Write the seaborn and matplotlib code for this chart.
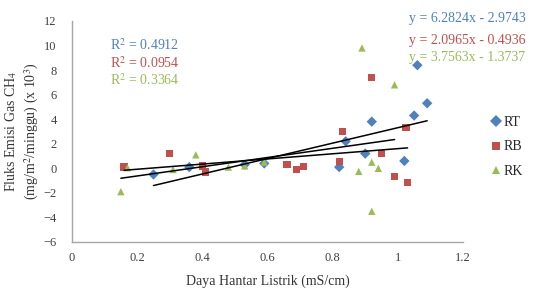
"""Fluks emisi CH4 vs daya hantar listrik scatter with linear trend lines"""
import numpy as np
import pandas as pd
import matplotlib
matplotlib.use("Agg")
import matplotlib.pyplot as plt
import seaborn as sns

sns.set_style("white")
plt.rcParams["font.family"] = ["Liberation Serif", "DejaVu Serif"]
plt.rcParams["mathtext.fontset"] = "stix"

# Data (x = mS/cm, y = x 10^3 mg/m2/minggu)
rt_x = [0.25, 0.36, 0.53, 0.59, 0.82, 0.84, 0.90, 0.92, 1.02, 1.05, 1.06, 1.09]
rt_y = [-0.5, 0.1, 0.3, 0.4, 0.1, 2.2, 1.2, 3.8, 0.6, 4.3, 8.4, 5.3]

rb_x = [0.16, 0.30, 0.40, 0.41, 0.66, 0.69, 0.71, 0.82, 0.83, 0.92, 0.95, 0.99, 1.025, 1.03]
rb_y = [0.1, 1.2, 0.2, -0.3, 0.3, -0.1, 0.15, 0.55, 3.0, 7.4, 1.2, -0.65, 3.3, -1.15]

rk_x = [0.15, 0.17, 0.31, 0.38, 0.48, 0.53, 0.59, 0.88, 0.89, 0.92, 0.92, 0.94, 0.99]
rk_y = [-1.9, 0.05, -0.1, 1.1, 0.1, 0.2, 0.5, -0.25, 9.8, 0.5, -3.5, 0.0, 6.8]

series = ["RT", "RB", "RK"]
colors = {"RT": "#4F81BD", "RB": "#C0504D", "RK": "#9BBB59"}
markers = {"RT": "D", "RB": "s", "RK": "^"}

# trend line coefficients as printed on the chart
slopes = {"RT": 6.2824, "RB": 2.0965, "RK": 3.7563}
intercepts = {"RT": -2.9743, "RB": -0.4936, "RK": -1.3737}
r2 = {"RT": 0.4912, "RB": 0.0954, "RK": 0.3364}

df = pd.concat([
    pd.DataFrame({"x": rt_x, "y": rt_y, "seri": "RT"}),
    pd.DataFrame({"x": rb_x, "y": rb_y, "seri": "RB"}),
    pd.DataFrame({"x": rk_x, "y": rk_y, "seri": "RK"}),
], ignore_index=True)

fig = plt.figure(figsize=(5.35, 2.91), dpi=100)
ax = fig.add_axes([0.1346, 0.1684, 0.7308, 0.7595])

sns.scatterplot(data=df, x="x", y="y", hue="seri", style="seri",
                hue_order=series, style_order=series,
                palette=colors, markers=markers, s=28, linewidth=0,
                ax=ax, zorder=3)

# linear trend lines over each series' x range
for s in series:
    sub = df[df["seri"] == s]
    xs = np.array([sub["x"].min(), sub["x"].max()])
    ax.plot(xs, slopes[s] * xs + intercepts[s], color="black", lw=1.1, zorder=4)

ax.set_xlim(0, 1.2)
ax.set_ylim(-6, 12)
ax.set_xticks(np.arange(0, 1.21, 0.2))
ax.set_xticklabels(["0", "0.2", "0.4", "0.6", "0.8", "1", "1.2"])
ax.set_yticks(np.arange(-6, 13, 2))
ax.tick_params(length=0, labelsize=9, colors="#404040")
ax.tick_params(axis="x", pad=7)
ax.tick_params(axis="y", pad=11)
for side in ["top", "right"]:
    ax.spines[side].set_visible(False)
for side in ["left", "bottom"]:
    ax.spines[side].set_color("#A6A6A6")
    ax.spines[side].set_linewidth(1)

ax.set_xlabel("Daya Hantar Listrik (mS/cm)", fontsize=10, color="#333333", labelpad=8)
ax.set_ylabel("Fluks Emisi Gas CH$_4$\n(mg/m$^2$/minggu) (x 10$^3$)",
              fontsize=10, color="#333333", linespacing=1.25)
ax.yaxis.set_label_coords(-0.08, 0.5)

# R2 and equations
r2_y = {"RT": 10.0, "RB": 8.55, "RK": 7.15}
eq_y = {"RT": 12.2, "RB": 10.4, "RK": 9.0}
for s in series:
    ax.text(0.117, r2_y[s], f"R$^2$ = {r2[s]:.4f}", color=colors[s],
            fontsize=10, va="center", ha="left")
    ax.text(1.034, eq_y[s], f"y = {slopes[s]:.4f}x - {abs(intercepts[s]):.4f}",
            color=colors[s], fontsize=10, va="center", ha="left", clip_on=False)

sns.move_legend(ax, "center left", bbox_to_anchor=(1.05, 0.43), frameon=False,
                title=None, fontsize=10, handlelength=0.7, handletextpad=0.2,
                labelspacing=0.8, markerscale=1.1, borderaxespad=0.2)

fig.savefig("out.png", dpi=100)
plt.close()
